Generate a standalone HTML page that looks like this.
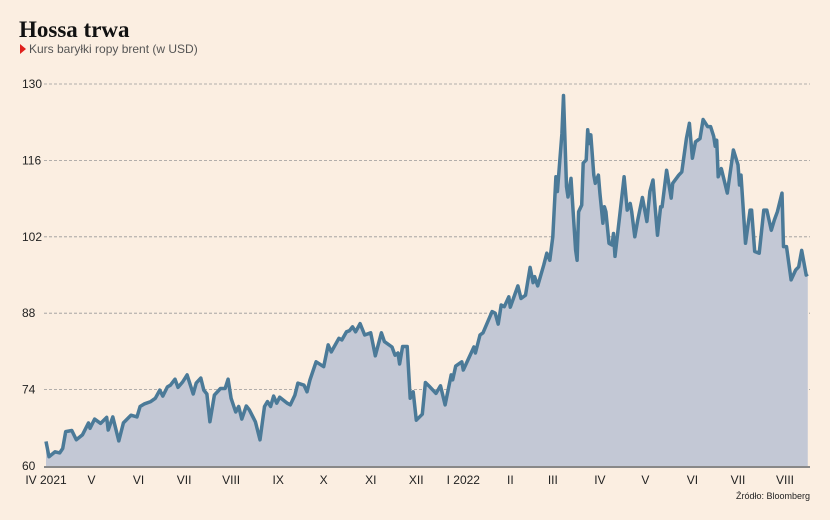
<!DOCTYPE html>
<html><head><meta charset="utf-8"><style>
body{margin:0;background:#fbeee1;font-family:"Liberation Sans",sans-serif;}
#wrap{position:relative;width:830px;height:520px;background:#fbeee1;overflow:hidden}
</style></head><body>
<div id="wrap">
<svg id="chart" width="830" height="520">
<text x="19" y="37" font-family="Liberation Serif, serif" font-weight="bold" font-size="23" fill="#111">Hossa trwa</text>
<polygon points="20,44 20,54 26,49" fill="#e0201c"/>
<text x="29" y="53" font-size="12" fill="#555">Kurs baryłki ropy brent (w USD)</text>
<text x="810" y="499" font-size="9" fill="#222" text-anchor="end">Źródło: Bloomberg</text>
</svg>
</div>
<script>
const yTicks=[60,74,88,102,116,130];
const monthLabels=["IV 2021","V","VI","VII","VIII","IX","X","XI","XII","I 2022","II","III","IV","V","VI","VII","VIII"];
const monthDays=[0,30,61,91,122,153,183,214,244,275,306,334,365,395,426,456,487];
const days=[0,2,6,9,11,13,17,20,24,28,29,32,36,40,41,44,48,51,56,60,62,65,69,72,75,77,80,82,85,87,90,93,97,99,102,104,106,108,111,115,118,120,122,125,127,129,132,134,138,141,144,146,148,150,152,154,159,161,164,166,170,172,174,178,183,186,188,193,195,198,200,202,204,207,210,214,217,221,223,228,230,232,233,235,238,240,242,244,248,250,253,257,260,263,267,268,270,274,275,282,283,286,288,294,296,298,300,302,305,306,311,313,316,319,321,322,324,328,330,332,334,336,337,340,341,343,344,346,349,350,351,353,354,356,357,358,359,361,362,364,365,367,368,369,371,373,374,375,378,381,383,385,386,388,390,393,396,398,400,401,403,405,406,409,412,413,417,419,422,424,426,428,431,433,436,438,440,441,442,443,445,449,453,456,457,458,461,464,465,467,470,473,475,478,480,482,485,486,488,491,494,496,498,501,502];
const prices=[64.5,61.7,62.6,62.4,63.2,66.3,66.5,64.8,65.7,67.9,66.9,68.6,67.8,68.9,66.6,69.0,64.6,67.9,69.3,69.0,70.9,71.4,71.8,72.4,73.9,72.8,74.5,74.8,75.9,74.4,75.4,76.7,73.2,75.2,76.1,73.9,73.2,68.1,73.0,74.2,74.2,75.9,72.4,69.9,70.9,68.6,71.0,70.3,68.1,64.8,70.9,71.8,70.9,72.8,71.5,72.6,71.5,71.2,73.0,75.2,74.8,73.6,75.8,79.1,78.2,82.2,80.9,83.4,83.1,84.6,84.8,85.5,84.6,86.1,84.0,84.4,80.2,84.4,82.8,81.8,80.3,80.7,78.7,81.9,81.9,72.4,73.6,68.4,69.5,75.3,74.5,73.3,74.7,71.2,76.7,75.8,78.3,79.1,77.6,81.8,80.7,84.0,84.4,88.3,88.0,86.0,89.5,89.2,91.0,89.1,93.0,90.7,91.3,96.4,93.6,94.7,93.0,96.8,99.0,97.7,102.0,113.0,110.3,120.9,127.9,111.2,109.3,112.7,99.6,97.7,106.6,107.8,115.5,116.1,121.6,119.1,120.7,113.3,111.8,113.3,110.0,104.5,107.5,106.6,100.8,100.5,102.6,98.4,105.7,113.0,106.9,108.1,106.6,102.0,105.1,109.2,104.8,110.3,112.4,108.8,102.3,107.5,107.5,114.2,109.1,111.8,113.3,113.9,120.0,122.8,116.4,119.4,120.0,123.5,122.2,122.2,120.4,118.6,119.7,113.0,114.5,110.0,117.9,115.2,111.5,113.3,100.8,106.9,106.9,99.3,99.0,106.9,106.9,103.2,105.1,106.6,110.0,100.2,100.2,94.1,95.9,96.5,99.5,95.0,95.2];
const NS="http://www.w3.org/2000/svg";
const svg=document.getElementById('chart');
const x=d=>46+d*(785-46)/487;
const y=v=>466-(v-60)*(466-84)/70;
function mk(t,a){const e=document.createElementNS(NS,t);for(const k in a)e.setAttribute(k,a[k]);svg.appendChild(e);return e;}
yTicks.forEach(t=>{
  if(t>60){const g=mk('line',{x1:44,x2:810,y1:y(t),y2:y(t),stroke:'#999','stroke-dasharray':'3,2','stroke-width':0.8});
  
  }
  const l=mk('text',{x:22,y:y(t)+4,'font-size':12,fill:'#222'});l.textContent=t;
  
  
});
let pts=days.map((d,i)=>x(d).toFixed(1)+','+y(prices[i]).toFixed(1));
const area=mk('polygon',{points:x(days[0])+','+y(60)+' '+pts.join(' ')+' '+x(days[days.length-1])+','+y(60),fill:'#c3c8d5'});


const line=mk('polyline',{points:pts.join(' '),fill:'none',stroke:'#4b7a98','stroke-width':3.5,'stroke-linejoin':'round'});


const base=mk('line',{x1:44,x2:810,y1:467,y2:467,stroke:'#888','stroke-width':2});


monthLabels.forEach((m,i)=>{
  const t=mk('text',{x:x(monthDays[i]),y:484,'font-size':12,fill:'#222','text-anchor':i==0?'middle':'middle'});
  t.textContent=m;
  
  
});
</script>
</body></html>
